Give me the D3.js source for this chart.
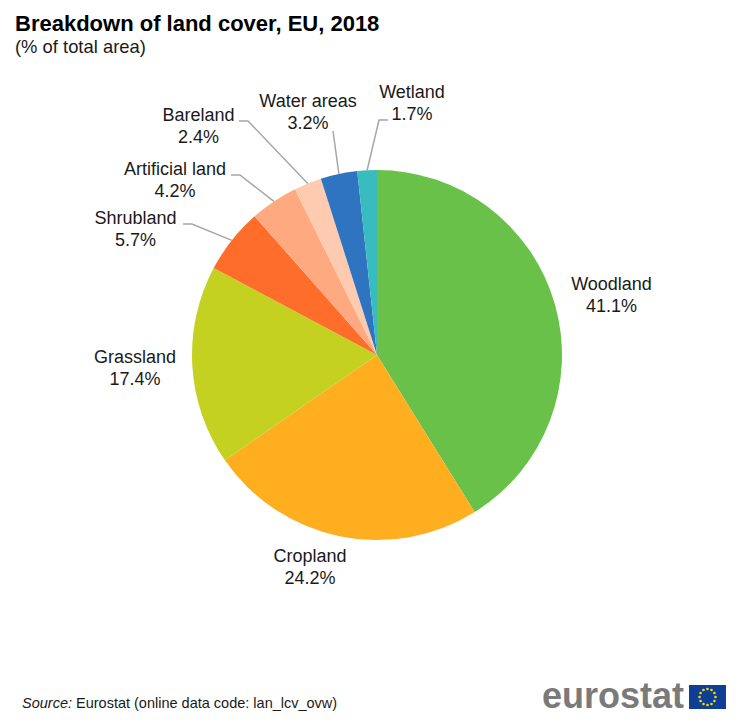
<!DOCTYPE html>
<html>
<head>
<meta charset="utf-8">
<script src="https://cdn.jsdelivr.net/npm/d3@7"></script>
<style>
  html, body { margin: 0; padding: 0; background: #fff; }
  text { font-family: "Liberation Sans", Arial, sans-serif; fill: #1a1a1a; }
</style>
</head>
<body>
<svg id="canvas" width="750" height="722"></svg>
<script>
//data
const categories = ["Woodland", "Cropland", "Grassland", "Shrubland", "Artificial land", "Bareland", "Water areas", "Wetland"];
const shares = [41.1, 24.2, 17.4, 5.7, 4.2, 2.4, 3.2, 1.7];
const colours = ["#69c14a", "#ffae1f", "#c4d121", "#ff6d2a", "#ffa981", "#ffcbb0", "#2f74c0", "#38bcc0"];

//label layout, same order as categories: text centre, first line baseline
const labelX = [611.5, 310, 135, 135.5, 175, 198.5, 308, 412];
const labelY = [290, 562, 363, 224, 175, 121, 107, 98];
//leader elbows, null where the label has no leader
const elbows = [null, null, null, [[192, 224], [183, 224]], [[240, 175], [231, 175]], [[248, 121], [239, 121]], [[333, 131]], [[379, 120], [388, 120]]];

const svg = d3.select("#canvas");
const cx = 377, cy = 355, radius = 185;

//title block
svg.append("text").attr("x", 15).attr("y", 31)
    .style("font-size", "22px").style("font-weight", "bold").style("fill", "#000")
    .text("Breakdown of land cover, EU, 2018");
svg.append("text").attr("x", 15).attr("y", 53)
    .style("font-size", "18.4px")
    .text("(% of total area)");

//pie
const pie = d3.pie().sort(null).value((d) => d.share);
const arc = d3.arc().innerRadius(0).outerRadius(radius);
const rows = categories.map((c, i) => ({name: c, share: shares[i], colour: colours[i], i: i}));
const arcs = pie(rows);

const g = svg.append("g").attr("transform", `translate(${cx},${cy})`);
g.selectAll("path")
    .data(arcs)
    .join("path")
    .attr("d", arc)
    .attr("fill", (d) => d.data.colour);

//leader lines start on the rim at the middle of the slice
const line = d3.line();
svg.selectAll("path.leader")
    .data(arcs.filter((d) => elbows[d.data.i]))
    .join("path")
    .attr("class", "leader")
    .attr("d", (d) => {
        const mid = (d.startAngle + d.endAngle) / 2;
        const rim = [cx + radius * Math.sin(mid), cy - radius * Math.cos(mid)];
        return line([rim].concat(elbows[d.data.i]));
    })
    .attr("fill", "none")
    .attr("stroke", "#a6a6a6")
    .attr("stroke-width", 1.5);

//labels, name over value
const labels = svg.selectAll("text.label")
    .data(rows)
    .join("text")
    .attr("class", "label")
    .attr("text-anchor", "middle")
    .style("font-size", "18px");
labels.append("tspan")
    .attr("x", (d) => labelX[d.i])
    .attr("y", (d) => labelY[d.i])
    .text((d) => d.name);
labels.append("tspan")
    .attr("x", (d) => labelX[d.i])
    .attr("y", (d) => labelY[d.i] + 21.5)
    .text((d) => d.share.toFixed(1) + "%");

//source line
const source = svg.append("text").attr("x", 22).attr("y", 708).style("font-size", "14.5px");
source.append("tspan").style("font-style", "italic").text("Source:");
source.append("tspan").text(" Eurostat (online data code: lan_lcv_ovw)");

//eurostat logo
svg.append("text").attr("x", 542).attr("y", 708)
    .style("font-size", "36px").style("font-weight", "bold").style("fill", "#7a7a7a")
    .text("eurostat");
svg.append("rect").attr("x", 689).attr("y", 685).attr("width", 37).attr("height", 24).attr("fill", "#0f3f94");
svg.selectAll("circle.star")
    .data(d3.range(12))
    .join("circle")
    .attr("class", "star")
    .attr("cx", (d) => 707.5 + 8 * Math.sin(d * Math.PI / 6))
    .attr("cy", (d) => 697 - 8 * Math.cos(d * Math.PI / 6))
    .attr("r", 1.3)
    .attr("fill", "#f5d90a");
</script>
</body>
</html>
